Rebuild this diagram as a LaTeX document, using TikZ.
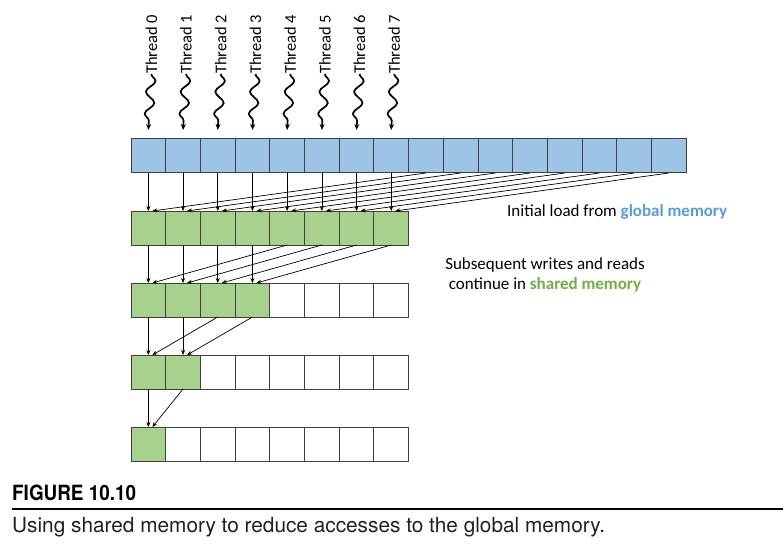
\documentclass[tikz,border=0pt]{standalone}
\usepackage{fontspec}
\setmainfont{Carlito}
\newfontfamily\capfont{TeX Gyre Heros}
\newfontfamily\capbold[FakeStretch=0.9]{TeX Gyre Heros Bold}
\usetikzlibrary{arrows.meta,decorations.pathmorphing}
\definecolor{cellblue}{HTML}{9DC3E6}
\definecolor{cellgreen}{HTML}{A9D18E}
\definecolor{cellline}{HTML}{404040}
\definecolor{txtblue}{HTML}{5B9BD5}
\definecolor{txtgreen}{HTML}{70AD47}
\definecolor{captxt}{HTML}{231F20}

\begin{document}
\begin{tikzpicture}[x=1pt,y=1pt,
    cell/.style={draw=cellline, line width=1pt, minimum width=34.7pt,
        minimum height=34pt, inner sep=0pt, outer sep=0pt},
    gload/.style={cell, fill=cellblue},
    move/.style={-{Stealth[length=5pt,width=4pt]}, line width=0.7pt},
    thread/.style={-{Stealth[length=6pt,width=5pt]}, line width=1.7pt, decorate,
        decoration={snake, amplitude=4.5pt, segment length=22pt, post length=5pt}},
    tlabel/.style={rotate=90, anchor=west, inner sep=0pt,
        font=\fontsize{16.5}{18}\selectfont},
    note/.style={font=\fontsize{17}{20}\selectfont}]
    \useasboundingbox (0,0) rectangle (783,547);
    \def\cw{34.7}
    \def\xo{131}

    % --- global memory row, threads on top ---
    \foreach \i in {0,...,15}
        \node[gload] (b\i) at ({\xo+\cw*(\i+0.5)},391) {};
    \foreach \i in {0,...,7} {
        \node[tlabel] (t\i) at ({\xo+\cw*(\i+0.5)+3},473) {Thread \i};
        \draw[thread] (t\i.west) -- ([yshift=9pt]b\i.north);
    }

    % --- shared memory rows, half as many live cells each step ---
    \foreach \k/\y/\n in {1/319/8, 2/247/4, 3/175/2, 4/103/1}
        \foreach \i in {0,...,7} {
            \ifnum\i<\n \def\cfill{cellgreen}\else\def\cfill{white}\fi
            \node[cell, fill=\cfill] (r\k c\i) at ({\xo+\cw*(\i+0.5)},\y) {};
        }

    % --- initial load from global memory ---
    \foreach \i in {0,...,7} {
        \pgfmathtruncatemacro\j{\i+8}
        \draw[move] (b\i.south) -- (r1c\i.north);
        \draw[move] (b\j.south) -- ([xshift=4pt]r1c\i.north);
    }

    % --- reduction steps inside shared memory ---
    \foreach \k/\n in {1/4, 2/2, 3/1} {
        \pgfmathtruncatemacro\kn{\k+1}
        \pgfmathtruncatemacro\last{\n-1}
        \foreach \i in {0,...,\last} {
            \pgfmathtruncatemacro\j{\i+\n}
            \draw[move] (r\k c\i.south) -- (r\kn c\i.north);
            \draw[move] (r\k c\j.south) -- ([xshift=4pt]r\kn c\i.north);
        }
    }

    % --- notes ---
    \node[note, anchor=base west, inner sep=0pt] (lload) at (507,331)
        {Initial load from \textcolor{txtblue}{\bfseries global memory}};
    \node[note, align=center] (lshared) at (545,272)
        {Subsequent writes and reads\\continue in \textcolor{txtgreen}{\bfseries shared memory}};

    % --- caption ---
    \node[anchor=base west, inner sep=0pt, font=\capbold\fontsize{21}{24}\selectfont]
        (fignum) at (12,47) {FIGURE 10.10};
    \draw[line width=2pt] (12,38) -- (783,38);
    \node[anchor=base west, inner sep=0pt, text=captxt,
        font=\capfont\fontsize{20.8}{24}\selectfont] (figcap) at (12,15)
        {Using shared memory to reduce accesses to the global memory.};
\end{tikzpicture}
\end{document}
